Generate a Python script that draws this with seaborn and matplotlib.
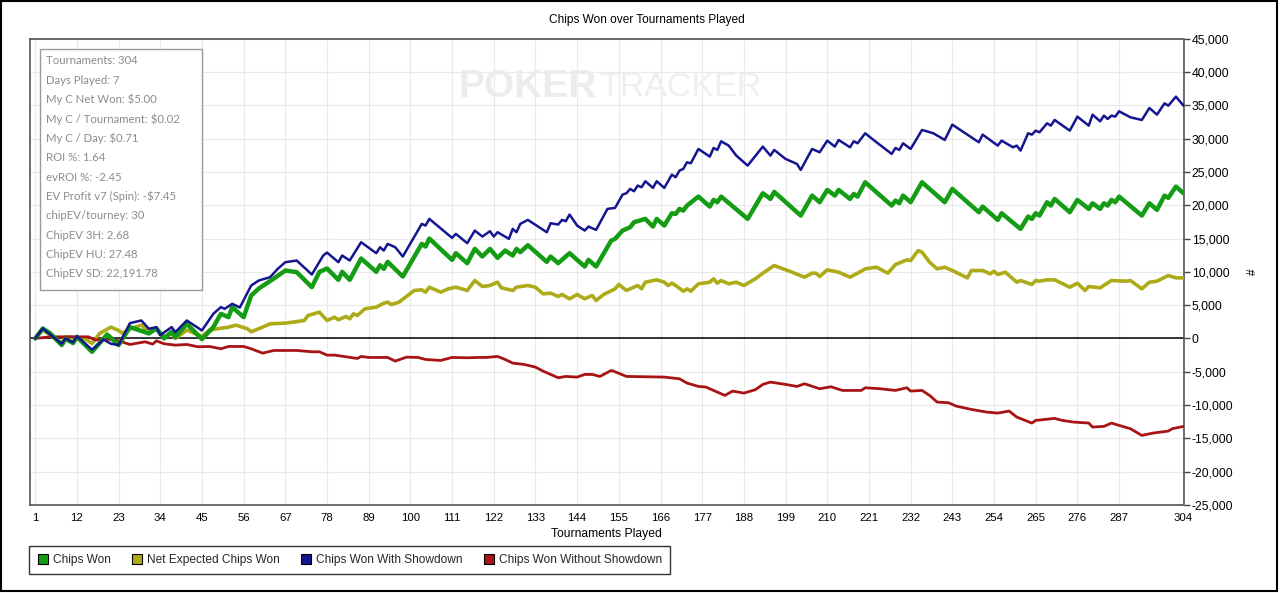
"""Chips Won over Tournaments Played - PokerTracker style cumulative chart."""

import matplotlib
matplotlib.use("Agg")
import matplotlib.pyplot as plt
from matplotlib.lines import Line2D
from matplotlib.patches import Rectangle
import seaborn as sns

W, H = 1280, 593

# ---- data (tournament number, cumulative chips) ----
GREEN_T = [1, 3, 5, 8, 9, 11, 12, 16, 20, 23, 26, 31, 33, 35, 37, 38, 41, 45, 48, 50,
           52, 53, 56, 58, 60, 64, 67, 70, 74, 76, 78, 81, 82, 84, 87, 91, 92, 93, 94, 98,
           103, 104, 105, 111, 112, 115, 117, 119, 121, 123, 125, 127, 128, 129, 131, 136,
           137, 139, 142, 143, 146, 147, 149, 153, 154, 156, 157, 158, 159, 162, 164, 165,
           167, 169, 170, 171, 172, 173, 176, 179, 180, 181, 182, 189, 193, 195, 196, 203,
           206, 208, 210, 212, 213, 216, 217, 218, 220, 227, 228, 229, 230, 232, 235, 241,
           243, 250, 251, 255, 256, 261, 263, 264, 265, 266, 268, 269, 270, 274, 276, 279,
           280, 282, 283, 284, 285, 286, 287, 293, 295, 297, 299, 300, 302, 304]
GREEN_V = [0, 1500, 750, -1000, -50, -700, 250, -2000, 600, -1000, 1700, 750, 1500, 0, 1000,
           200, 2200, -100, 1700, 3700, 3200, 4700, 3200, 6450, 7500, 9000, 10200, 9950, 7700,
           10000, 10500, 8800, 10000, 8800, 12000, 10000, 11000, 10450, 11500, 9300, 14200,
           13800, 15000, 11800, 12800, 11300, 13450, 12300, 13450, 12100, 13200, 12450, 13450,
           12950, 14000, 11500, 12300, 11300, 12800, 12300, 10800, 11800, 10800, 14700, 14950,
           16200, 16450, 16700, 17450, 17950, 16800, 17950, 16950, 18800, 18700, 19450, 19200,
           19950, 21300, 19800, 20800, 20450, 21300, 17950, 21800, 20950, 22000, 18450, 21450,
           20450, 22300, 21450, 22300, 20950, 21700, 21300, 23450, 19950, 20700, 20300, 21450,
           20450, 23450, 20450, 22450, 18950, 19800, 17800, 18800, 16450, 18300, 17950, 18800,
           18450, 20450, 19950, 20950, 18950, 20800, 19450, 20300, 19450, 20300, 19950, 20800,
           20450, 21300, 18450, 20300, 19300, 21450, 21100, 22800, 21800]

YELLOW_T = [1, 3, 8, 9, 14, 16, 18, 21, 23, 24, 26, 29, 31, 33, 35, 37, 38, 41, 45, 47, 49,
            52, 54, 57, 58, 61, 63, 67, 69, 72, 73, 76, 78, 80, 81, 83, 84, 85, 86, 88, 91,
            93, 94, 95, 97, 101, 103, 104, 105, 108, 110, 112, 115, 117, 119, 121, 123, 124,
            127, 128, 131, 133, 135, 137, 139, 140, 142, 144, 146, 148, 149, 151, 154, 155,
            157, 159, 160, 161, 162, 165, 167, 168, 169, 170, 172, 173, 174, 176, 179, 180,
            181, 182, 184, 186, 188, 191, 193, 196, 200, 204, 206, 207, 208, 210, 213, 216,
            219, 220, 223, 226, 228, 231, 232, 234, 235, 237, 239, 241, 243, 247, 248, 251,
            253, 254, 255, 257, 258, 260, 261, 264, 265, 266, 268, 270, 274, 276, 278, 279,
            282, 285, 289, 290, 293, 295, 297, 300, 302, 304]
YELLOW_V = [0, 1300, -700, 250, 0, -750, 750, 1700, 1200, 800, 1450, 2000, 1000, 1450, 250,
            700, 0, 1250, 300, 1250, 1450, 1700, 2000, 1450, 1000, 1700, 2200, 2300, 2450,
            2700, 3450, 3950, 2700, 3200, 2800, 3300, 2950, 3700, 3450, 4450, 4700, 5300, 5450,
            5100, 5450, 7200, 7300, 6950, 7700, 6950, 7450, 7700, 7200, 8700, 7800, 7950, 8450,
            7600, 7200, 7700, 7950, 7700, 6700, 6800, 6300, 6600, 5950, 6600, 5950, 6450, 5700,
            6600, 7450, 8100, 7200, 7700, 7950, 7450, 8450, 8800, 8450, 7950, 8300, 7950, 7100,
            7450, 7100, 8200, 8450, 8950, 8300, 8700, 8200, 8450, 7950, 8950, 9800, 10950, 10100,
            9200, 9800, 9800, 9300, 10300, 9950, 9200, 10100, 10450, 10700, 9800, 11100, 11800,
            11700, 13200, 12950, 11450, 10450, 10700, 10200, 9100, 10200, 10200, 9700, 10100,
            9600, 9950, 9450, 8450, 8700, 8100, 8700, 8600, 8800, 8800, 7700, 8300, 7200, 7800,
            7600, 8700, 8600, 8700, 7450, 8450, 8600, 9450, 9100, 9100]

BLUE_T = [1, 3, 8, 9, 11, 12, 16, 19, 21, 23, 26, 29, 31, 33, 34, 37, 38, 41, 45, 48, 50,
          51, 53, 55, 58, 60, 63, 65, 67, 70, 74, 77, 78, 81, 82, 84, 87, 91, 92, 93, 94, 96,
          98, 103, 104, 105, 111, 112, 115, 117, 119, 121, 122, 123, 126, 127, 128, 129, 131,
          136, 137, 139, 140, 141, 142, 144, 146, 147, 149, 152, 154, 156, 157, 158, 159,
          160, 161, 162, 164, 165, 167, 169, 170, 171, 172, 173, 174, 176, 179, 180, 181,
          182, 184, 186, 189, 193, 195, 196, 199, 202, 203, 206, 208, 210, 212, 213, 216,
          217, 218, 220, 223, 227, 228, 229, 230, 232, 235, 238, 241, 243, 250, 251, 255,
          256, 259, 260, 261, 263, 264, 265, 266, 268, 269, 270, 274, 276, 279, 280, 282,
          283, 284, 285, 286, 287, 290, 293, 295, 297, 299, 300, 302, 304]
BLUE_V = [0, 1500, -800, 0, -600, 350, -1700, -150, -800, -1000, 2300, 2700, 1450, 1700, 500,
          1700, 950, 2700, 1200, 3700, 4700, 4450, 5200, 4650, 7950, 8700, 9200, 10450, 11450,
          11700, 9600, 12450, 12900, 11450, 12450, 11700, 14450, 12800, 13700, 13200, 14200,
          13700, 12300, 17200, 16950, 17950, 15100, 15700, 14300, 16200, 15300, 16100, 15300,
          15950, 14950, 16450, 15950, 17200, 17800, 15950, 17300, 17100, 17800, 17600, 18600,
          16950, 16200, 16800, 16300, 19450, 19600, 21600, 21800, 22450, 22100, 22950, 22700,
          23600, 22600, 23600, 22600, 24600, 24200, 25200, 25450, 26450, 26300, 28450, 27300,
          28600, 28300, 29600, 28950, 27450, 25950, 28800, 27450, 28300, 26950, 26200, 25300,
          28450, 27950, 29700, 28800, 29800, 28700, 29600, 29300, 30800, 29450, 27700, 28600,
          28300, 29300, 28450, 31300, 30800, 29800, 32100, 29450, 30600, 28950, 29700, 28700,
          28950, 28200, 30800, 30600, 31200, 30950, 32300, 31950, 32800, 31200, 33300, 31950,
          33600, 32600, 33450, 32950, 33450, 33300, 34100, 33200, 32800, 34600, 33600, 35300,
          34950, 36300, 34950]

RED_T = [1, 5, 15, 17, 19, 23, 26, 30, 32, 33, 35, 38, 41, 44, 47, 50, 52, 56, 58, 61, 64,
         67, 70, 74, 76, 78, 80, 83, 86, 87, 89, 92, 94, 96, 99, 102, 104, 108, 111, 115,
         118, 120, 123, 125, 127, 130, 133, 135, 137, 139, 141, 144, 146, 148, 150, 151, 153,
         154, 157, 162, 167, 171, 173, 176, 178, 183, 185, 188, 191, 193, 195, 199, 202, 204,
         208, 211, 214, 219, 220, 224, 228, 231, 232, 235, 237, 239, 242, 244, 248, 252, 255,
         258, 260, 264, 265, 270, 272, 275, 279, 280, 283, 285, 287, 290, 293, 296, 300, 301,
         304]
RED_V = [0, 250, 250, -250, 0, -350, -900, -500, -850, -350, -800, -1000, -900, -1250, -1200,
         -1550, -1200, -1200, -1550, -2200, -1800, -1800, -1800, -2000, -2000, -2500, -2500,
         -2750, -3000, -2700, -2850, -2850, -2850, -3400, -2800, -2850, -3150, -3300, -2850,
         -2900, -2850, -2850, -2700, -3150, -3700, -3900, -4300, -4900, -5400, -5900, -5700,
         -5800, -5400, -5400, -5700, -5400, -4800, -5000, -5700, -5750, -5800, -6050, -6700,
         -7200, -7300, -8550, -7900, -8200, -7700, -6900, -6550, -6900, -7200, -6800, -7550,
         -7250, -7800, -7800, -7400, -7550, -7800, -7400, -7900, -7800, -8550, -9550, -9650,
         -10150, -10650, -11050, -11200, -10900, -11800, -12700, -12300, -12000, -12300,
         -12550, -12700, -13300, -13200, -12700, -13050, -13550, -14550, -14200, -13900,
         -13550, -13200]

SERIES_NAMES = ["Chips Won", "Net Expected Chips Won",
                "Chips Won With Showdown", "Chips Won Without Showdown"]

STATS = ["Tournaments: 304", "Days Played: 7", "My C Net Won: $5.00",
         "My C / Tournament: $0.02", "My C / Day: $0.71", "ROI %: 1.64",
         "evROI %: -2.45", "EV Profit v7 (Spin): -$7.45", "chipEV/tourney: 30",
         "ChipEV 3H: 2.68", "ChipEV HU: 27.48", "ChipEV SD: 22,191.78"]

X_TICKS = [1, 12, 23, 34, 45, 56, 67, 78, 89, 100, 111, 122, 133, 144, 155, 166, 177,
           188, 199, 210, 221, 232, 243, 254, 265, 276, 287, 304]
Y_TICKS = [-25000, -20000, -15000, -10000, -5000, 0, 5000, 10000, 15000, 20000,
           25000, 30000, 35000, 40000, 45000]

# ---- styles ----
STYLE = {
    "Chips Won": dict(color="#149c14", lw=3.2, z=4),
    "Net Expected Chips Won": dict(color="#adab17", lw=2.6, z=3),
    "Chips Won With Showdown": dict(color="#15158f", lw=1.8, z=5),
    "Chips Won Without Showdown": dict(color="#a81414", lw=2.0, z=3),
}
FONT = ["Liberation Sans", "DejaVu Sans"]


def fx(px):
    return px / W


def fy(py):
    return 1 - py / H


def main() -> None:
    sns.set_theme(style="white")
    plt.rcParams["font.family"] = FONT

    fig = plt.figure(figsize=(W / 100, H / 100), dpi=100)
    fig.patch.set_facecolor("white")
    ax = fig.add_axes([fx(29.5), fy(505), fx(1183.5 - 29.5), (505 - 38.7) / H])
    ax.set_facecolor("white")

    data = {
        "Chips Won": (GREEN_T, GREEN_V),
        "Net Expected Chips Won": (YELLOW_T, YELLOW_V),
        "Chips Won With Showdown": (BLUE_T, BLUE_V),
        "Chips Won Without Showdown": (RED_T, RED_V),
    }
    for name in SERIES_NAMES:
        t, v = data[name]
        st = STYLE[name]
        sns.lineplot(x=t, y=v, ax=ax, color=st["color"], linewidth=st["lw"],
                     estimator=None, sort=False, legend=False, zorder=st["z"])

    ax.axhline(0, color="black", lw=1.1, zorder=2)

    ax.set_xlim(-0.5, 304)
    ax.set_ylim(-25000, 45000)
    ax.set_xticks(X_TICKS)
    ax.set_xticklabels([str(x) for x in X_TICKS])
    ax.set_yticks(Y_TICKS)
    ax.set_yticklabels([f"{y:,}" for y in Y_TICKS])
    ax.yaxis.tick_right()
    ax.yaxis.set_label_position("right")
    ax.tick_params(axis="both", direction="out", length=4, width=1, color="#444444",
                   pad=2, labelcolor="black")
    ax.tick_params(axis="x", labelsize=8.2)
    ax.tick_params(axis="y", labelsize=8.8)
    ax.grid(True, color="#e9e9e9", lw=0.8)
    ax.set_axisbelow(True)
    for sp in ax.spines.values():
        sp.set_visible(True)
        sp.set_color("#555555")
        sp.set_linewidth(1.2)

    ax.set_xlabel("Tournaments Played", fontsize=8.7, labelpad=3, color="black")
    ax.set_ylabel("#", fontsize=8.5, labelpad=10, rotation=90, color="black")

    fig.text(fx(647), fy(20), "Chips Won over Tournaments Played", ha="center",
             va="center", fontsize=8.6, color="black")

    # watermark
    ax.text(fx(597), fy(87), "POKER", transform=fig.transFigure, ha="right", va="center",
            fontsize=28, fontweight="bold", color="#ececec", zorder=0.8)
    ax.text(fx(599), fy(87), "TRACKER", transform=fig.transFigure, ha="left", va="center",
            fontsize=24.5, color="#efefef", zorder=0.8)

    # stats box
    fig.add_artist(Rectangle((fx(40), fy(290)), (202 - 40) / W, (290 - 49) / H,
                             transform=fig.transFigure, facecolor="white",
                             edgecolor="#9a9a9a", lw=1.0, zorder=6))
    for i, line in enumerate(STATS):
        fig.text(fx(46), fy(61 + i * 19.36), line, ha="left", va="center", fontsize=8.2,
                 color="#8c8c8c", family=["Lato", "DejaVu Sans"], zorder=7)

    # legend
    handles = [Line2D([], [], marker="s", linestyle="none", markersize=7,
                      markerfacecolor=STYLE[n]["color"], markeredgecolor="black",
                      markeredgewidth=0.8) for n in SERIES_NAMES]
    leg = fig.legend(handles, SERIES_NAMES, loc="upper left",
                     bbox_to_anchor=(fx(29.5), fy(546)), ncol=4, frameon=True,
                     fancybox=False, fontsize=8.6, borderaxespad=0, borderpad=0.65,
                     handlelength=0.9, handletextpad=0.4, columnspacing=1.75)
    leg.get_frame().set_edgecolor("black")
    leg.get_frame().set_linewidth(1.0)

    # outer frame
    fig.add_artist(Rectangle((fx(1), fy(591)), (1277 - 1) / W, (591 - 1) / H,
                             transform=fig.transFigure, fill=False, edgecolor="black",
                             lw=1.5, zorder=10))

    fig.savefig("out.png", dpi=100)
    plt.close(fig)


if __name__ == "__main__":
    main()
